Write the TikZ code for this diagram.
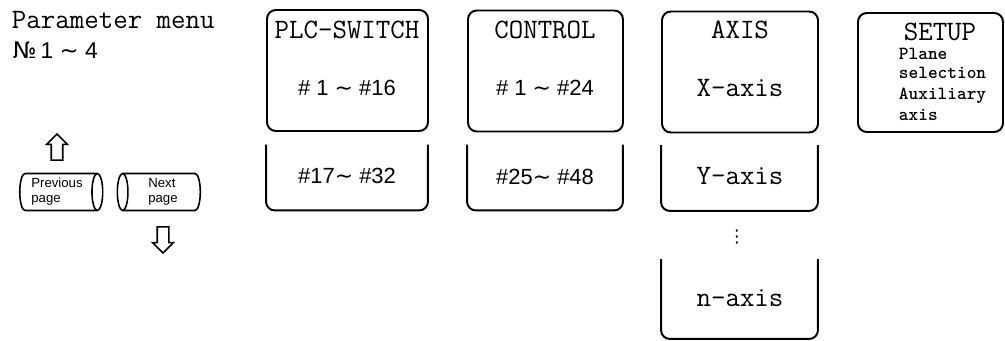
\documentclass[tikz,border=0pt]{standalone}
\usepackage{fontspec}
\setmainfont{Liberation Serif}
\newfontfamily\keyfont{Liberation Sans}
\newfontfamily\symfont{DejaVu Sans}
\usetikzlibrary{positioning,shapes.geometric,shapes.arrows}
\tikzset{
  menubox/.style={draw,rounded corners=5pt,minimum width=#1,minimum height=2.42cm,inner sep=0pt},
  pagebox/.style={minimum width=#1,minimum height=1.28cm,inner sep=0pt},
  headtxt/.style={font=\ttfamily\fontsize{16}{18}\selectfont,inner sep=0pt},
  rangetxt/.style={font=\keyfont\fontsize{12.5}{14}\selectfont,inner sep=0pt},
  smalltxt/.style={font=\ttfamily\bfseries\fontsize{10.5}{12}\selectfont,inner sep=0pt,anchor=west},
  keybtn/.style={cylinder,draw,line width=0.9pt,minimum width=0.74cm,minimum height=1.66cm,aspect=0.35,align=left,inner sep=1pt,font=\keyfont\fontsize{7.5}{8.5}\selectfont},
  pagearrow/.style={single arrow,draw,line width=0.9pt,minimum height=0.52cm,inner xsep=0pt,inner ysep=0.1cm,single arrow head extend=0.09cm}
}
\newcommand{\tl}{{\symfont\char"223C}}
\begin{document}
\begin{tikzpicture}[x=0.02cm,y=-0.02cm,line width=1.1pt]
\useasboundingbox (0,0) rectangle (1005,341);
% left side: title and page keys
\node[headtxt,anchor=west] (title) at (11,20) {Parameter menu};
\node[font=\keyfont\fontsize{13}{15}\selectfont,anchor=west,inner sep=0pt] (range) at (12,50) {{\symfont №}\,1 \tl\ 4};
\node[pagearrow,rotate=90] (up) at (57,150) {};
\node[keybtn] (prev) at (57,192) {Previous\\page};
\node[keybtn,shape border rotate=180] (next) at (163,192) {Next\\page};
\node[pagearrow,rotate=-90] (down) at (163,237) {};
% menu pages
\node[menubox=3.22cm] (plc) at (347.5,70.5) {};
\node[pagebox=3.2cm] (plcb) at (347,177.5) {};
\node[menubox=3.1cm] (ctl) at (545.5,71) {};
\node[pagebox=3.08cm] (ctlb) at (545,177.5) {};
\node[menubox=3.12cm] (axis) at (740,72) {};
\node[pagebox=3.1cm] (yax) at (739.5,178) {};
\node[pagebox=3.1cm,minimum height=1.56cm] (nax) at (739.5,299) {};
\node[menubox=2.9cm,minimum height=2.38cm] (setup) at (930.5,72.5) {};
\foreach \b in {plcb,ctlb,yax,nax}
  \draw[rounded corners=5pt] (\b.north west) -- (\b.south west) -- (\b.south east) -- (\b.north east);
% texts
\node[headtxt] (plch) at (347,30) {PLC-SWITCH};
\node[rangetxt] (plcr) at (347,88) {\# 1 \tl\ \#16};
\node[rangetxt] (plcbr) at (347,176) {\#17\tl\ \#32};
\node[headtxt] (ctlh) at (545,30) {CONTROL};
\node[rangetxt] (ctlr) at (545,88) {\# 1 \tl\ \#24};
\node[rangetxt] (ctlbr) at (545,177) {\#25\tl\ \#48};
\node[headtxt] (axish) at (740,30) {AXIS};
\node[headtxt] (xaxh) at (740,88) {X-axis};
\node[headtxt] (yaxh) at (740,176) {Y-axis};
\node[inner sep=0pt,font=\symfont] (dots) at (737,237) {⋮};
\node[headtxt] (naxh) at (740,298) {n-axis};
\node[headtxt] (setuph) at (940,32) {SETUP};
\node[smalltxt] (plane) at (898,54) {Plane};
\node[smalltxt] (sel) at (898,73) {selection};
\node[smalltxt] (aux) at (898,96) {Auxiliary};
\node[smalltxt] (auxax) at (898,115) {axis};
\end{tikzpicture}
\end{document}
